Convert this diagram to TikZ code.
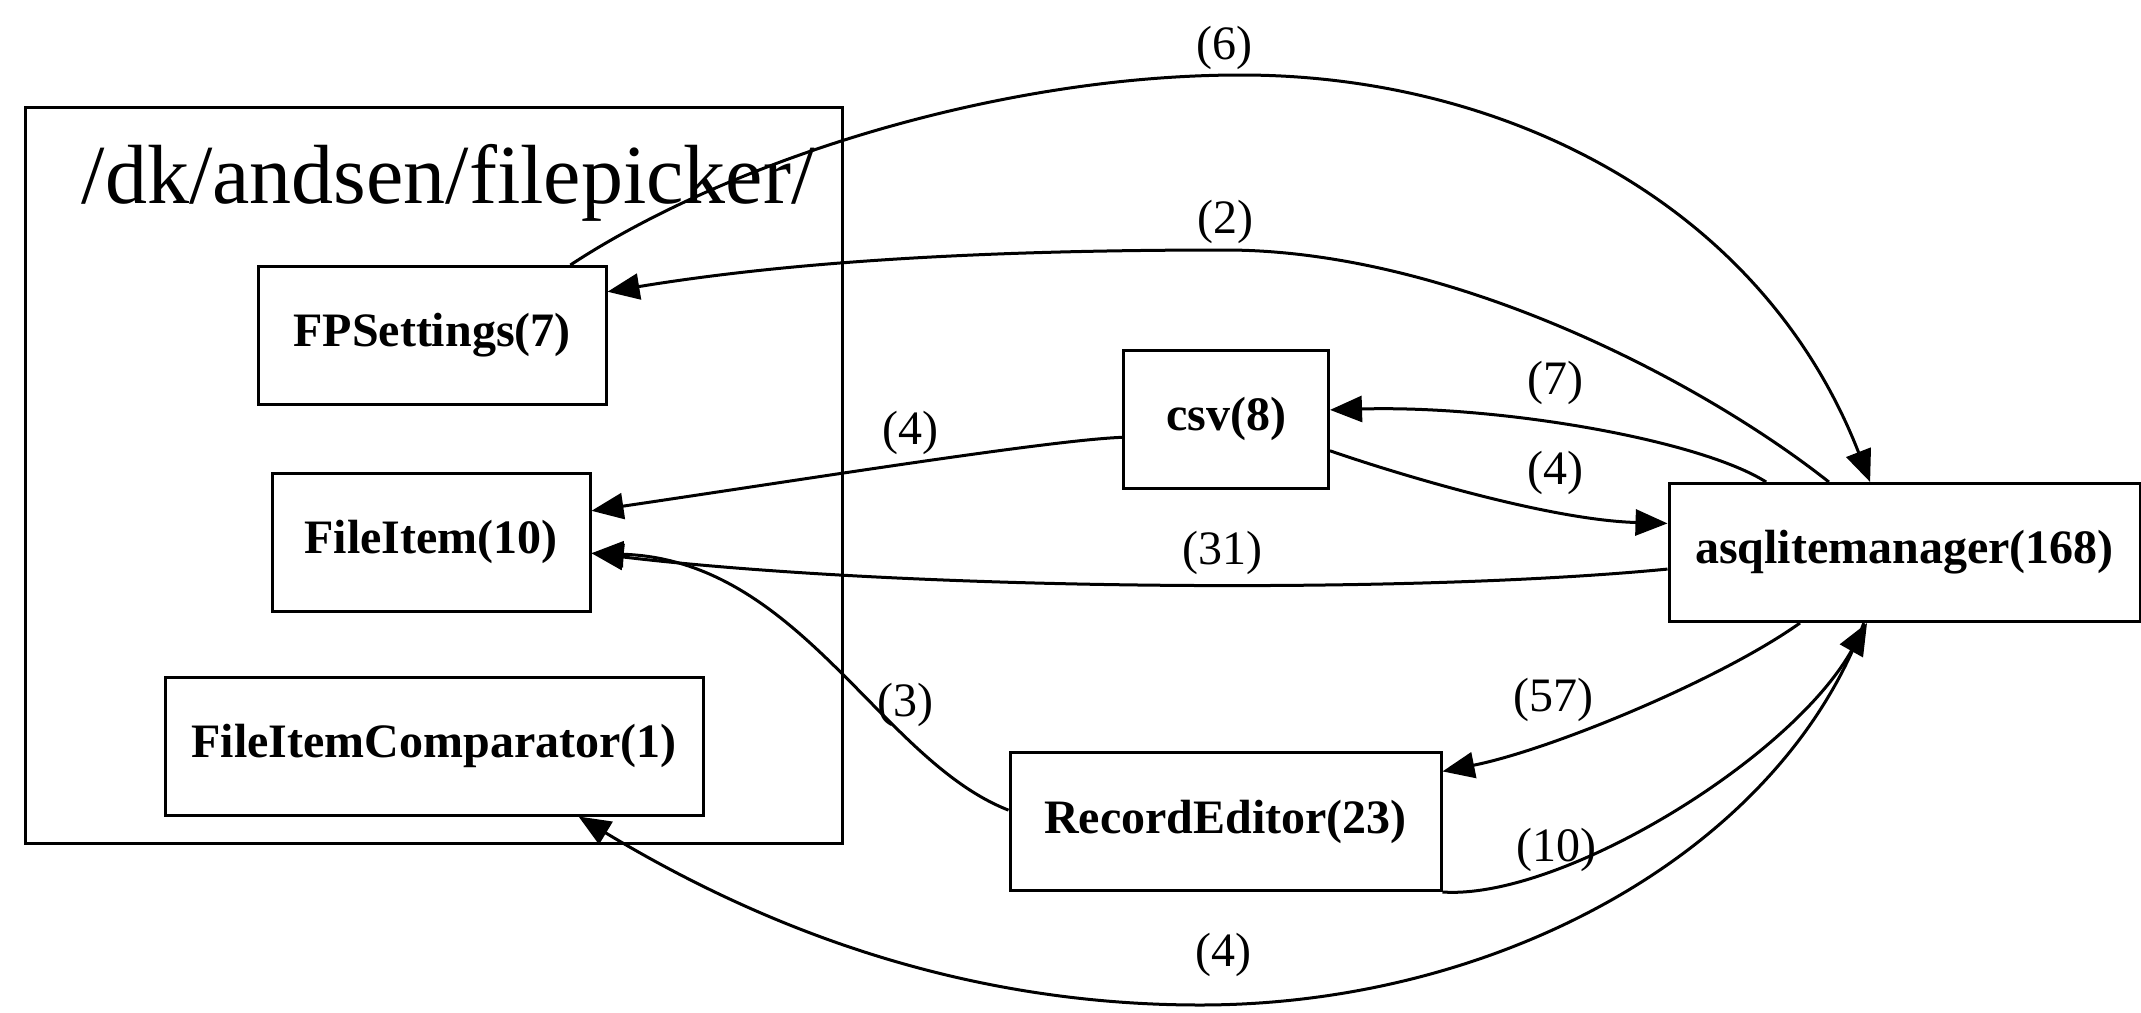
\documentclass[tikz,border=0pt]{standalone}
\usepackage{fontspec}
\setmainfont{Liberation Serif}
\usetikzlibrary{arrows.meta}

\begin{document}
\begin{tikzpicture}[x=0.5pt,y=-0.5pt,
  box/.style={draw,line width=1.5pt,inner sep=0pt,minimum height=69pt,
    font=\fontsize{24}{28}\selectfont\bfseries},
  dep/.style={line width=1.5pt,-{Triangle[length=16pt,width=13pt]}},
  cnt/.style={inner sep=0pt,font=\fontsize{24}{28}\selectfont}]
\useasboundingbox (0,0) rectangle (2141,1012);
% the filepicker package
\draw[line width=1.5pt] (25,107) rectangle (842,843);
\node[anchor=base,inner sep=0pt,font=\fontsize{42}{48}\selectfont] (pkg) at (448,203) {/dk/andsen/filepicker/};
\node[box,minimum width=174pt] (fps) at (432,335.5) {FPSettings(7)};
\node[box,minimum width=159pt] (fi) at (431,542) {FileItem(10)};
\node[box,minimum width=269pt] (fic) at (434,746) {FileItemComparator(1)};
% other classes
\node[box,minimum width=102.5pt] (csv) at (1226,419) {csv(8)};
\node[box,minimum width=235.5pt] (asq) at (1904.5,552.5) {asqlitemanager(168)};
\node[box,minimum width=215.5pt] (rec) at (1225.5,821.5) {RecordEditor(23)};

% dependencies
\draw[dep] (fps.27) .. controls (730,160) and (1000,75) .. (1241,75)
  .. controls (1500,75) and (1760,200) .. (asq.116);
\draw[dep] (asq.137) .. controls (1700,380) and (1450,250) .. (1225,250)
  .. controls (1000,250) and (800,260) .. (fps.14);
\draw[dep] (asq.153) .. controls (1700,440) and (1500,405) .. (csv.5);
\draw[dep] (csv.-17) .. controls (1400,475) and (1550,520) .. (asq.173);
\draw[dep] (csv.190) .. controls (1050,440) and (800,480) .. (fi.11);
\draw[dep] (asq.184) .. controls (1400,595) and (900,590) .. (fi.-4);
\draw[dep] (rec.177) .. controls (880,760) and (800,560) .. (fi.-4);
\draw[dep] (asq.214) .. controls (1720,680) and (1550,750) .. (rec.13);
\draw[dep] (rec.south east) .. controls (1560,900) and (1790,760) .. (asq.242);
\draw[dep] (asq.240) .. controls (1780,850) and (1500,1005) .. (1200,1005)
  .. controls (950,1005) and (750,920) .. (fic.334);

% counts
\node[cnt] (n6) at (1224,48) {(6)};
\node[cnt] (n2) at (1225,222) {(2)};
\node[cnt] (n7) at (1555,383) {(7)};
\node[cnt] (n4a) at (1555,473) {(4)};
\node[cnt] (n4b) at (910,433) {(4)};
\node[cnt] (n31) at (1222,553) {(31)};
\node[cnt] (n3) at (905,705) {(3)};
\node[cnt] (n57) at (1553,700) {(57)};
\node[cnt] (n10) at (1556,850) {(10)};
\node[cnt] (n4c) at (1223,955) {(4)};
\end{tikzpicture}
\end{document}
